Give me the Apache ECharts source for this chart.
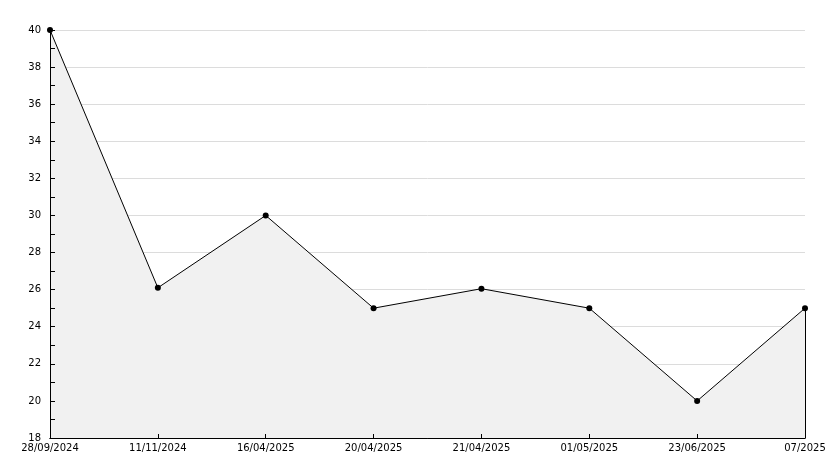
<!DOCTYPE html>
<html><head><meta charset="utf-8">
<script src="https://cdn.jsdelivr.net/npm/echarts@6/dist/echarts.min.js"></script>
<style>html,body{margin:0;padding:0;background:#fff}#c{width:834px;height:468px}</style>
</head><body><div id="c"></div>
<script>
const categories = ["28/09/2024","11/11/2024","16/04/2025","20/04/2025","21/04/2025","01/05/2025","23/06/2025","07/2025"];
const values = [40, 26.1, 30, 25, 26.05, 25, 20, 25];
const yMin = 18, yMax = 40, yStep = 2;

const chart = echarts.init(document.getElementById('c'), null, {renderer:'canvas'});
const font = 'DejaVu Sans';
chart.setOption({
  animation: false,
  backgroundColor: '#fff',
  grid: {left: 50, right: 29, top: 30, bottom: 30, containLabel: false},
  xAxis: [{
    type: 'category', data: categories, boundaryGap: false,
    axisLine: {lineStyle: {color: '#000', width: 1}},
    axisTick: {show: false},
    axisLabel: {color: '#000', fontFamily: font, fontSize: 10, margin: 5, interval: 0},
    splitLine: {show: false}
  }, {
    type: 'category', data: categories, boundaryGap: false, position: 'bottom', z: 5,
    axisLine: {show: true, lineStyle: {color: '#000', width: 1}},
    axisTick: {show: true, inside: true, length: 4, lineStyle: {color: '#000'}},
    axisLabel: {show: false},
    splitLine: {show: false}
  }],
  yAxis: [{
    type: 'value', min: yMin, max: yMax, interval: yStep,
    axisLine: {show: true, lineStyle: {color: '#000', width: 1}},
    axisTick: {show: false},
    axisLabel: {color: '#000', fontFamily: font, fontSize: 10, margin: 9},
    splitLine: {show: true, lineStyle: {color: '#dcdcdc', width: 1}}
  }, {
    type: 'value', min: yMin, max: yMax, interval: yStep, position: 'left', z: 5,
    axisLine: {show: true, lineStyle: {color: '#000', width: 1}},
    axisTick: {show: true, inside: true, length: 5, lineStyle: {color: '#000'}},
    minorTick: {show: true, splitNumber: 2, length: 5, lineStyle: {color: '#000'}},
    axisLabel: {show: false},
    splitLine: {show: false}
  }],
  series: [{
    type: 'line', data: values, xAxisIndex: 0, yAxisIndex: 0,
    lineStyle: {color: '#000', width: 1},
    areaStyle: {color: '#f1f1f1', opacity: 1, origin: 'start'},
    symbol: 'circle', symbolSize: 6,
    itemStyle: {color: '#000'},
    markLine: {
      silent: true, symbol: 'none', label: {show: false},
      lineStyle: {color: '#000', width: 1, type: 'solid'},
      data: [[{coord: [categories.length - 1, yMin]}, {coord: [categories.length - 1, values[values.length - 1]]}]]
    }
  }]
});
</script></body></html>
